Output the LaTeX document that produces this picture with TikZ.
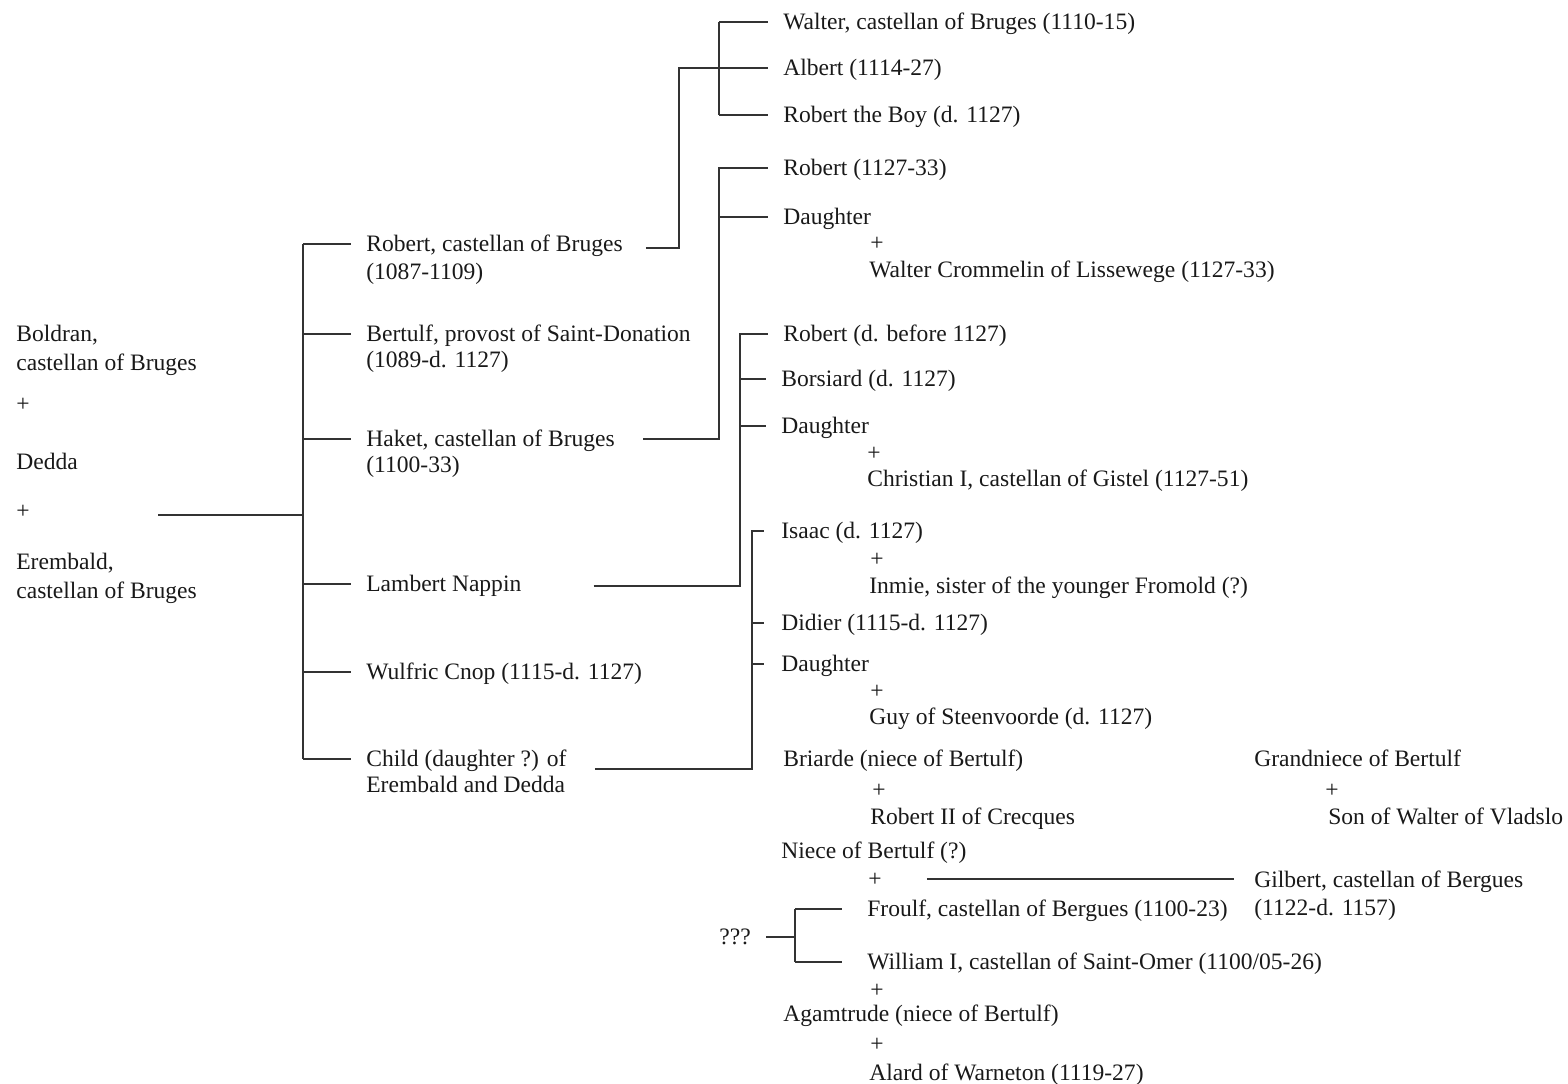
\documentclass[tikz,border=0pt]{standalone}
\usepackage{fontspec}
\setmainfont{Liberation Serif}
\tikzset{
  pers/.style={ anchor=west, inner sep=0pt, text height=9pt, text depth=0pt, font=\fontsize{13.4}{16}\selectfont, text=black!90 }
}
\tikzset{
  link/.style={ draw=black!80, line width=0.8pt }
}
\tikzset{
  tick/.style={ link, shorten >=0.3cm }
}

\begin{document}
\begin{tikzpicture}[x=0.02cm, y=-0.02cm]
        \useasboundingbox (0,0) rectangle (1568,1084);
        % Boldran + Dedda + Erembald
        \node[pers] (bold) at (16,334) {Boldran,};
        \node[pers] (bold2) at (16,363) {castellan of Bruges};
        \node[pers] (pl1) at (16,404) {+};
        \node[pers] (dedda) at (16,462) {Dedda};
        \node[pers] (pl2) at (16,511) {+};
        \node[pers] (erem) at (16,562) {Erembald,};
        \node[pers] (erem2) at (16,591) {castellan of Bruges};
        \coordinate (par) at (158,515);
        \coordinate (b1) at (303,515);
        % children
        \node[pers] (robc) at (366,244) {Robert, castellan of Bruges};
        \node[pers] (robc2) at (366,272) {(1087-1109)};
        \node[pers] (bert) at (366,334) {Bertulf, provost of Saint-Donation};
        \node[pers] (bert2) at (366,360) {(1089-d. 1127)};
        \node[pers] (haket) at (366,439) {Haket, castellan of Bruges};
        \node[pers] (haket2) at (366,465) {(1100-33)};
        \node[pers] (lamb) at (366,584) {Lambert Nappin};
        \node[pers] (wulf) at (366,672) {Wulfric Cnop (1115-d. 1127)};
        \node[pers] (child) at (366,759) {Child (daughter ?) of};
        \node[pers] (child2) at (366,785) {Erembald and Dedda};
        \draw[link] (par) -- (b1);
        \draw[link] (b1 |- robc.west) -- (b1 |- child.west);
        \foreach \n in {robc,bert,haket,lamb,wulf,child}
          \draw[tick] (b1 |- \n.west) -- (\n.west);
        % Robert's children
        \node[pers] (walt) at (783,22) {Walter, castellan of Bruges (1110-15)};
        \node[pers] (albert) at (783,68) {Albert (1114-27)};
        \node[pers] (rboy) at (783,115) {Robert the Boy (d. 1127)};
        \coordinate (k1) at (679,0);
        \coordinate (s1) at (719,0);
        \draw[tick] (robc.east) ++(23,4) -| (k1 |- albert.west) -- (albert.west);
        \draw[link] (s1 |- walt.west) -- (s1 |- rboy.west);
        \foreach \n in {walt,rboy}
          \draw[tick] (s1 |- \n.west) -- (\n.west);
        % Haket's children
        \node[pers] (rob3) at (783,168) {Robert (1127-33)};
        \node[pers] (daut1) at (783,217) {Daughter};
        \node[pers] (pl3) at (870,243) {+};
        \node[pers] (walc) at (869,270) {Walter Crommelin of Lissewege (1127-33)};
        \draw[tick] (haket.east) ++(28,0) -| (s1 |- rob3.west) -- (rob3.west);
        \draw[tick] (s1 |- daut1.west) -- (daut1.west);
        % Lambert's children
        \coordinate (s2) at (740,0);
        \node[pers] (robd) at (783,334) {Robert (d. before 1127)};
        \node[pers] (bors) at (781,379) {Borsiard (d. 1127)};
        \node[pers] (daut2) at (781,426) {Daughter};
        \node[pers] (pl4) at (867,453) {+};
        \node[pers] (chri) at (867,479) {Christian I, castellan of Gistel (1127-51)};
        \draw[tick] (lamb.east) ++(72,2) -| (s2 |- robd.west) -- (robd.west);
        \foreach \n in {bors,daut2}
          \draw[tick] (s2 |- \n.west) -- (\n.west);
        % children of the daughter
        \coordinate (s3) at (752,0);
        \node[pers] (isaac) at (781,531) {Isaac (d. 1127)};
        \node[pers] (pl5) at (870,559) {+};
        \node[pers] (inmie) at (869,586) {Inmie, sister of the younger Fromold (?)};
        \node[pers] (didier) at (781,623) {Didier (1115-d. 1127)};
        \node[pers] (daut3) at (781,664) {Daughter};
        \node[pers] (pl6) at (870,691) {+};
        \node[pers] (guy) at (869,717) {Guy of Steenvoorde (d. 1127)};
        \draw[tick, shorten >=0.34cm] (child.east) ++(28,10) -| (s3 |- isaac.west) -- (isaac.west);
        \foreach \n in {didier,daut3}
          \draw[tick, shorten >=0.34cm] (s3 |- \n.west) -- (\n.west);
        % nieces
        \node[pers] (briar) at (783,759) {Briarde (niece of Bertulf)};
        \node[pers] (pl7) at (872,790) {+};
        \node[pers] (rob2c) at (870,817) {Robert II of Crecques};
        \node[pers] (grand) at (1254,759) {Grandniece of Bertulf};
        \node[pers] (pl8) at (1325,790) {+};
        \node[pers] (sonw) at (1328,817) {Son of Walter of Vladslo};
        \node[pers] (niece) at (781,851) {Niece of Bertulf (?)};
        \node[pers] (pl9) at (868,879) {+};
        \node[pers] (froulf) at (867,909) {Froulf, castellan of Bergues (1100-23)};
        \node[pers] (gil) at (1254,880) {Gilbert, castellan of Bergues};
        \node[pers] (gil2) at (1254,908) {(1122-d. 1157)};
        \draw[link, shorten <=0.9cm, shorten >=0.4cm] (pl9.east) -- (gil.west |- pl9.east);
        % ??? and the castellan of Saint-Omer
        \coordinate (s4) at (795,0);
        \node[pers] (unk) at (719,937) {???};
        \node[pers] (will) at (867,962) {William I, castellan of Saint-Omer (1100/05-26)};
        \node[pers] (pl10) at (870,990) {+};
        \node[pers] (agam) at (783,1014) {Agamtrude (niece of Bertulf)};
        \node[pers] (pl11) at (870,1044) {+};
        \node[pers] (alard) at (869,1073) {Alard of Warneton (1119-27)};
        \draw[link, shorten <=0.3cm] (unk.east) -- (s4 |- unk.east);
        \draw[link] (s4 |- froulf.west) -- (s4 |- will.west);
        \foreach \n in {froulf,will}
          \draw[tick, shorten >=0.5cm] (s4 |- \n.west) -- (\n.west);
      \end{tikzpicture}
\end{document}
